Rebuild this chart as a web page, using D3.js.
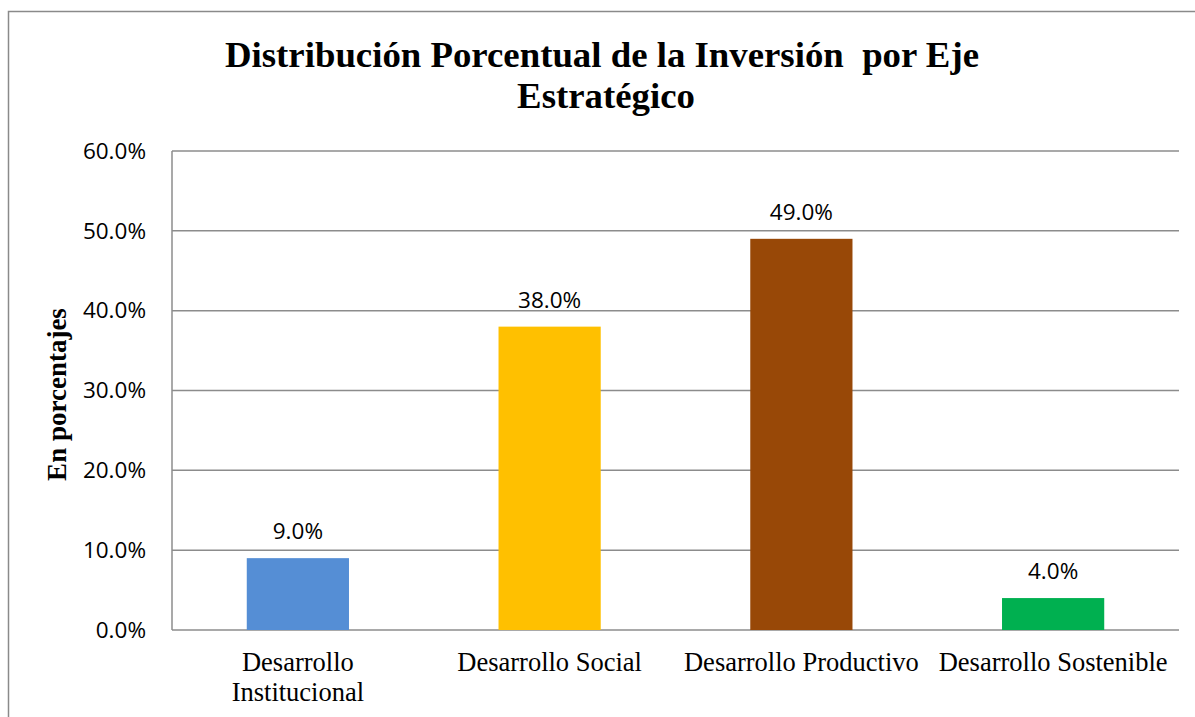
<!DOCTYPE html>
<html>
<head>
<meta charset="utf-8">
<script src="https://cdn.jsdelivr.net/npm/d3@7"></script>
<style>
  body { margin: 0; background: #fff; }
</style>
</head>
<body>
<div class="svgcontainer"></div>
<script>
const categories = [
  ['Desarrollo', 'Institucional'],
  ['Desarrollo Social'],
  ['Desarrollo Productivo'],
  ['Desarrollo Sostenible'],
];
const values = [0.09, 0.38, 0.49, 0.04];
const barColors = ['#558ed5', '#ffc000', '#984807', '#00b050'];
const yTicks = [0, 0.1, 0.2, 0.3, 0.4, 0.5, 0.6];

const svg = d3
  .select('.svgcontainer')
  .append('svg')
  .attr('width', 1195)
  .attr('height', 717);

// outer chart border (bottom and right fall outside the picture)
svg
  .append('rect')
  .attr('x', 8.5)
  .attr('y', 11.5)
  .attr('width', 1200)
  .attr('height', 720)
  .attr('fill', 'none')
  .attr('stroke', '#8a8a8a')
  .attr('stroke-width', 1.5);

const margin = {top: 151, left: 172, right: 1195 - 1179, bottom: 717 - 630};
const width = 1195 - margin.left - margin.right;
const height = 717 - margin.top - margin.bottom;
const g = svg
  .append('g')
  .attr('transform', `translate(${margin.left},${margin.top})`);

const x = d3
  .scaleBand()
  .domain(d3.range(categories.length))
  .range([0, width])
  .paddingInner(0.594)
  .paddingOuter(0.297);

const y = d3.scaleLinear().domain([0, 0.6]).range([height, 0]);

// gridlines
g.selectAll('.grid')
  .data(yTicks)
  .enter()
  .append('line')
  .attr('class', 'grid')
  .attr('x1', 0)
  .attr('x2', width)
  .attr('y1', d => y(d))
  .attr('y2', d => y(d))
  .attr('stroke', '#8c8c8c')
  .attr('stroke-width', 1.5);

g.append('line')
  .attr('x1', 0)
  .attr('x2', 0)
  .attr('y1', 0)
  .attr('y2', height)
  .attr('stroke', '#8c8c8c')
  .attr('stroke-width', 1.5);

// y tick labels
const yAxis = g
  .append('g')
  .call(
    d3
      .axisLeft(y)
      .tickValues(yTicks)
      .tickSize(0)
      .tickPadding(26)
      .tickFormat(d3.format('.1%')),
  );
yAxis.select('.domain').remove();
yAxis
  .selectAll('text')
  .attr('fill', '#000')
  .style('font', '22.5px "Open Sans", sans-serif');

// bars
g.selectAll('.bar')
  .data(values)
  .enter()
  .append('rect')
  .attr('class', 'bar')
  .attr('x', (d, i) => x(i))
  .attr('width', x.bandwidth())
  .attr('y', d => y(d))
  .attr('height', d => height - y(d))
  .attr('fill', (d, i) => barColors[i]);

// data labels
g.selectAll('.label')
  .data(values)
  .enter()
  .append('text')
  .attr('class', 'label')
  .attr('x', (d, i) => x(i) + x.bandwidth() / 2)
  .attr('y', d => y(d) - 19)
  .attr('text-anchor', 'middle')
  .style('font', '22.5px "Open Sans", sans-serif')
  .text(d => d3.format('.1%')(d));

// category labels
const cat = g
  .selectAll('.cat')
  .data(categories)
  .enter()
  .append('text')
  .attr('class', 'cat')
  .attr('text-anchor', 'middle')
  .attr('y', height + 41)
  .style('font', '26.5px "Liberation Serif", "Times New Roman", serif');
cat
  .selectAll('tspan')
  .data((d, i) => d.map(t => ({t, i})))
  .enter()
  .append('tspan')
  .attr('x', d => x(d.i) + x.bandwidth() / 2)
  .attr('dy', (d, j) => (j === 0 ? 0 : 30))
  .text(d => d.t);

// title
svg
  .append('text')
  .attr('x', 602)
  .attr('y', 67)
  .attr('text-anchor', 'middle')
  .style('font', 'bold 36.8px "Liberation Serif", "Times New Roman", serif')
  .style('white-space', 'pre')
  .text('Distribución Porcentual de la Inversión  por Eje');
svg
  .append('text')
  .attr('x', 606)
  .attr('y', 108)
  .attr('text-anchor', 'middle')
  .style('font', 'bold 36.8px "Liberation Serif", "Times New Roman", serif')
  .text('Estratégico');

// y axis title
svg
  .append('text')
  .attr('transform', `translate(66,${margin.top + height / 2 + 4}) rotate(-90)`)
  .attr('text-anchor', 'middle')
  .style('font', 'bold 27px "Liberation Serif", "Times New Roman", serif')
  .text('En porcentajes');
</script>
</body>
</html>
